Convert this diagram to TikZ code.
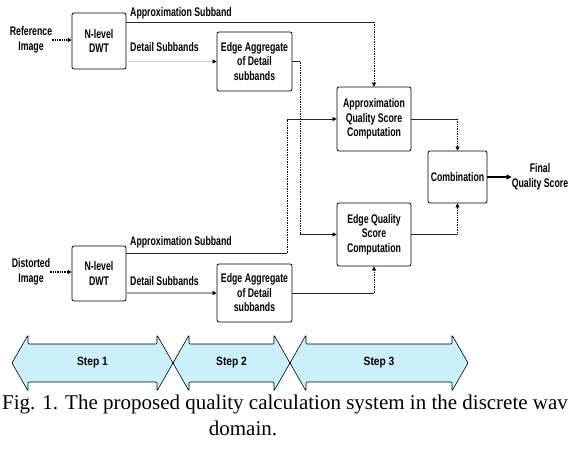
\documentclass[tikz,border=0pt]{standalone}
\usepackage{fontspec}
\newfontfamily\df{Liberation Sans}[FakeStretch=0.7]
\newfontfamily\stepfont{Liberation Sans}[FakeStretch=0.85]
\newfontfamily\cf{Liberation Serif}
\usetikzlibrary{arrows.meta}
\tikzset{
  box/.style={draw, line width=0.8pt, rounded corners=2pt, inner sep=0pt, align=center,
    font=\df\bfseries\fontsize{12.5}{14.5}\selectfont},
  lbl/.style={inner sep=0pt, align=center, font=\df\bfseries\fontsize{12.5}{14.5}\selectfont},
  conn/.style={line width=0.7pt, draw=black!85},
  vconn/.style={line width=0.7pt, densely dotted},
  tip/.style={-{Triangle[length=4pt,width=4pt,black]}},
  stepfill/.style={draw, line width=0.6pt, fill=cyan!20, rounded corners=1pt},
}
\begin{document}
\begin{tikzpicture}[x=1pt,y=-1pt]
\useasboundingbox[fill=white] (0,0) rectangle (570,455);
% boxes
\node[box, minimum width=54pt, minimum height=56pt] (dwt1) at (99,41) {N-level\\DWT};
\node[box, minimum width=75pt, minimum height=59pt] (ea1) at (254.5,61.5) {Edge Aggregate\\of Detail\\subbands};
\node[box, minimum width=74pt, minimum height=64pt] (aqs) at (374,119) {Approximation\\Quality Score\\Computation};
\node[box, minimum width=59pt, minimum height=52pt] (comb) at (457.5,177) {Combination};
\node[box, minimum width=74pt, minimum height=63pt] (eqs) at (374,234.5) {Edge Quality\\Score\\Computation};
\node[box, minimum width=54pt, minimum height=55pt] (dwt2) at (99,273.5) {N-level\\DWT};
\node[box, minimum width=75pt, minimum height=58pt] (ea2) at (254.5,293) {Edge Aggregate\\of Detail\\subbands};
% labels
\node[lbl] (ref) at (31,40) {Reference\\Image};
\node[lbl] (dist) at (31,272) {Distorted\\Image};
\node[lbl] (final) at (540,177) {Final\\Quality Score};
\node[lbl, anchor=west] (la1) at (130,13) {Approximation Subband};
\node[lbl, anchor=west] (ld1) at (130,47) {Detail Subbands};
\node[lbl, anchor=west] (la2) at (130,242) {Approximation Subband};
\node[lbl, anchor=west] (ld2) at (130,281) {Detail Subbands};
% inputs
\draw[line width=1.3pt, densely dotted, tip] (ref.east) -- (ref.east -| dwt1.west);
\draw[line width=1.3pt, densely dotted, tip] (dist.east) -- (dist.east -| dwt2.west);
% reference approximation
\coordinate (a1) at (374,22);
\draw[conn] (dwt1.east |- a1) -- (a1);
\draw[vconn, tip] (a1) -- (aqs.north);
% reference detail
\draw[conn, double=gray!40, double distance=0.6pt, line width=0.4pt, tip] (dwt1.east |- ea1.west) -- (ea1.west);
\coordinate (b1) at (300,61.5);
\coordinate (b2) at (b1 |- eqs.west);
\draw[conn] (ea1.east) -- (b1);
\draw[vconn] (b1) -- (b2);
\draw[conn, tip] (b2) -- (eqs.west);
% distorted approximation
\coordinate (c1) at (287,253);
\coordinate (c2) at (c1 |- aqs.west);
\draw[conn] (dwt2.east |- c1) -- (c1);
\draw[vconn] (c1) -- (c2);
\draw[conn, tip] (c2) -- (aqs.west);
% distorted detail
\draw[line width=1.5pt, draw=gray!70, tip] (dwt2.east |- ea2.west) -- (ea2.west);
\coordinate (d1) at (ea2.east -| eqs.south);
\draw[conn] (ea2.east) -- (d1);
\draw[vconn, tip] (d1) -- (eqs.south);
% to combination
\coordinate (e1) at (aqs.east -| comb.north);
\draw[conn] (aqs.east) -- (e1);
\draw[vconn, tip] (e1) -- (comb.north);
\coordinate (f1) at (eqs.east -| comb.south);
\draw[conn] (eqs.east) -- (f1);
\draw[vconn, tip] (f1) -- (comb.south);
\draw[line width=1.5pt, -{Triangle[length=5pt,width=5pt]}] (comb.east) -- (final.west);
% steps
\foreach \a/\b/\t in {12/173/Step 1, 173/290/Step 2, 290/468/Step 3}{
  \draw[stepfill] (\a,363) -- (\a+16,335) -- (\a+16,344) -- (\b-16,344) -- (\b-16,335) -- (\b,363)
     -- (\b-16,391) -- (\b-16,382) -- (\a+16,382) -- (\a+16,391) -- cycle;
  \node[lbl, font=\stepfont\bfseries\fontsize{12}{14}\selectfont] at ({(\a+\b)/2},363) {\t};
}
% caption
\node[anchor=west, inner sep=0pt, font=\cf\fontsize{21}{24}\selectfont] (cap1) at (2,404) {Fig. 1. The proposed quality calculation system in the discrete wav};
\node[inner sep=0pt, font=\cf\fontsize{21}{24}\selectfont] (cap2) at (243,428) {domain.};
\end{tikzpicture}
\end{document}
